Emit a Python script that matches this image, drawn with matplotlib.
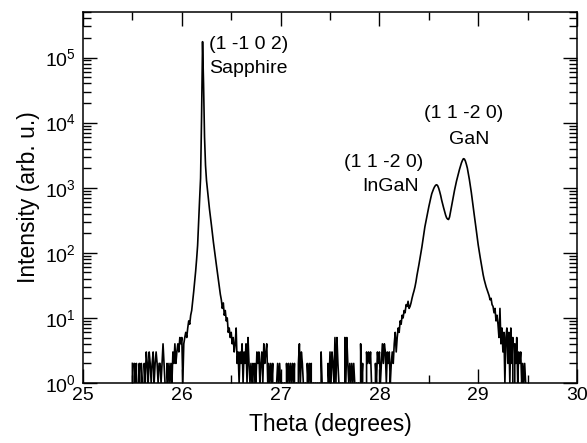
import matplotlib
matplotlib.use("Agg")
import matplotlib.pyplot as plt
import numpy as np
from matplotlib.ticker import LogLocator, MultipleLocator, NullFormatter, LogFormatterMathtext

plt.rcParams['font.family'] = ['Liberation Sans', 'DejaVu Sans']
plt.rcParams['mathtext.fontset'] = 'custom'
plt.rcParams['mathtext.rm'] = 'Liberation Sans'

# theta scan, 0.01 deg steps starting at 25.50
theta_start = 25.50
theta_step = 0.01
counts = [
    2, 0, 2, 1, 2, 0, 1, 2, 0, 2,            # 25.50
    1, 0, 2, 1, 3, 2, 1, 3, 2, 1,            # 25.60
    2, 3, 1, 2, 3, 2, 1, 2, 2, 1,            # 25.70
    2, 4, 2, 1, 0, 2, 1, 2, 1, 2,            # 25.80
    1, 3, 2, 4, 2, 3, 4, 3, 5, 4,            # 25.90
    5, 1, 4, 5, 6, 5, 7, 9, 8, 11,           # 26.00
    13, 18, 25, 36, 52, 80, 130, 300, 650, 1400,            # 26.10
    12000, 175000, 40000, 6000, 2200, 1290, 910, 660, 470, 355,  # 26.20
    265, 195, 145, 112, 85, 65, 50, 38, 30, 23,             # 26.30
    19, 14, 17, 11, 13, 9, 10, 6, 7, 5,      # 26.40
    6, 4, 5, 3, 4, 7, 2, 3, 1, 3,            # 26.50
    2, 4, 1, 3, 2, 4, 1, 5, 2, 1,            # 26.60
    2, 1, 2, 0, 2, 1, 3, 2, 3, 1,            # 26.70
    2, 3, 1, 4, 2, 3, 4, 1, 2, 1,            # 26.80
    2, 1, 2, 0, 1, 0, 1, 2, 1, 2,            # 26.90
    1, 0, 1, 0, 1, 0, 2, 1, 2, 1,            # 27.00
    2, 1, 2, 1, 2, 0, 1, 0, 2, 4,            # 27.10
    1, 3, 2, 1, 0, 1, 0, 2, 1, 2,            # 27.20
    1, 2, 0, 1, 0, 1, 0, 1, 0, 1,            # 27.30
    0, 3, 1, 0, 1, 0, 1, 0, 2, 1,            # 27.40
    3, 1, 3, 2, 1, 5, 1, 5, 2, 1,            # 27.50
    0, 1, 0, 1, 0, 5, 1, 5, 2, 1,            # 27.60
    2, 1, 2, 1, 2, 1, 0, 1, 0, 1,            # 27.70
    0, 4, 1, 2, 0, 1, 0, 3, 2, 3,            # 27.80
    2, 3, 1, 0, 1, 0, 2, 1, 3, 2,            # 27.90
    3, 1, 2, 4, 2, 4, 3, 1, 3, 2,            # 28.00
    3, 1, 2, 3, 2, 4, 6, 3, 5, 7,            # 28.10
    6, 9, 8, 11, 10, 13, 12, 16, 15, 18,     # 28.20
    14, 15, 17, 20, 23, 26, 30, 36, 45, 54,  # 28.30
    66, 81, 100, 123, 155, 200, 250, 300, 365, 440,          # 28.40
    510, 600, 700, 810, 890, 975, 1045, 1095, 1110, 1070,    # 28.50
    980, 870, 760, 645, 560, 490, 430, 380, 345, 330,        # 28.60
    325, 355, 430, 525, 630, 760, 910, 1070, 1260, 1450,     # 28.70
    1650, 1900, 2150, 2400, 2620, 2790, 2760, 2570, 2290, 2000,  # 28.80
    1660, 1350, 1070, 850, 645, 500, 380, 295, 225, 170,     # 28.90
    132, 105, 85, 69, 56, 46, 39, 34, 30, 27,                # 29.00
    24, 22, 19, 20, 16, 15, 12, 14, 9, 11,   # 29.10
    8, 5, 14, 4, 7, 3, 6, 1, 5, 7,           # 29.20
    2, 6, 1, 7, 2, 5, 0, 4, 2, 5,            # 29.30
    1, 3, 2, 3, 1, 2, 1, 2, 1,               # 29.40
]
theta = np.round(theta_start + theta_step * np.arange(len(counts)), 2)

fig = plt.figure(figsize=(5.87, 4.43), dpi=100)
ax = fig.add_axes([0.1414, 0.1354, 0.8416, 0.8375])

ax.plot(theta, counts, color='black', lw=1.2)
ax.set_yscale('log', nonpositive='clip')
ax.set_xlim(25, 30)
ax.set_ylim(1, 5e5)

ax.xaxis.set_major_locator(MultipleLocator(1))
ax.xaxis.set_minor_locator(MultipleLocator(0.5))
ax.yaxis.set_major_locator(LogLocator(base=10, numticks=10))
ax.yaxis.set_minor_locator(LogLocator(base=10, subs=np.arange(2, 10), numticks=20))
ax.yaxis.set_major_formatter(LogFormatterMathtext())
ax.yaxis.set_minor_formatter(NullFormatter())

ax.tick_params(which='both', direction='in', top=True, right=True, width=1.0)
ax.tick_params(which='major', length=10, labelsize=14)
ax.tick_params(which='minor', length=5.5)
ax.tick_params(axis='x', which='major', pad=3)
ax.tick_params(axis='y', which='major', pad=5)
for s in ax.spines.values():
    s.set_linewidth(1.1)

ax.set_xlabel('Theta (degrees)', fontsize=16.5, labelpad=6)
ax.set_ylabel('Intensity (arb. u.)', fontsize=16.5, labelpad=4)

# peak labels
ax.text(26.275, 1.6e5, '(1 -1 0 2)', fontsize=14, ha='left', va='center')
ax.text(26.275, 6.8e4, 'Sapphire', fontsize=14, ha='left', va='center')
ax.text(28.85, 1.38e4, '(1 1 -2 0)', fontsize=14, ha='center', va='center')
ax.text(28.91, 5.6e3, 'GaN', fontsize=14, ha='center', va='center')
ax.text(28.44, 2.4e3, '(1 1 -2 0)', fontsize=14, ha='right', va='center')
ax.text(28.40, 1.05e3, 'InGaN', fontsize=14, ha='right', va='center')

fig.savefig('out.png', dpi=100)
